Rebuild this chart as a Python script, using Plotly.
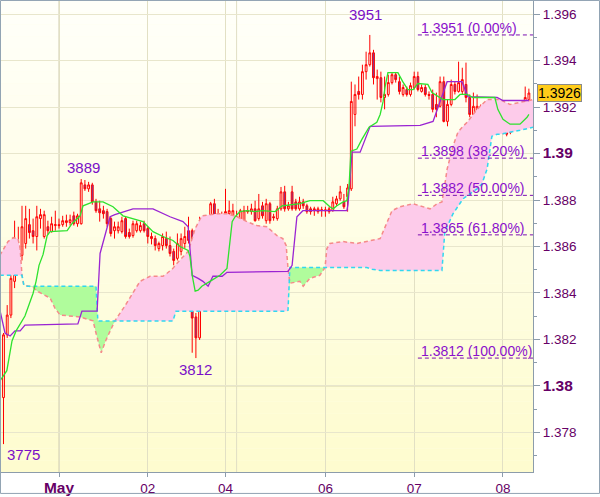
import plotly.graph_objects as go

# ---------------- data ----------------
bar_idx = list(range(1, 144))

open_ = [1.37950,1.38220,1.38305,1.38450,1.38604,1.38562,1.38613,1.38694,1.38668,1.38643,
         1.38720,1.38643,1.38685,1.38664,1.38690,1.38694,1.38694,1.38703,1.38703,1.38732,
         1.38698,1.38698,1.38865,1.38848,1.38865,1.38792,1.38762,1.38754,1.38750,1.38720,
         1.38668,1.38668,1.38664,1.38720,1.38660,1.38647,1.38668,1.38668,1.38698,1.38677,
         1.38643,1.38634,1.38591,1.38604,1.38634,1.38604,1.38579,1.38549,1.38579,1.38613,
         1.38668,1.38668,1.38297,1.38207,1.38643,1.38643,1.38643,1.38784,1.38741,1.38720,
         1.38728,1.38741,1.38728,1.38728,1.38656,1.38707,1.38754,1.38750,1.38762,1.38720,
         1.38775,1.38711,1.38784,1.38728,1.38720,1.38762,1.38835,1.38762,1.38835,1.38792,
         1.38762,1.38792,1.38775,1.38762,1.38762,1.38750,1.38754,1.38758,1.38750,1.38754,
         1.38784,1.38805,1.38792,1.38814,1.38848,1.39168,1.39267,1.39254,1.39352,1.39382,
         1.39433,1.39322,1.39326,1.39241,1.39254,1.39305,1.39339,1.39309,1.39254,1.39275,
         1.39254,1.39284,1.39331,1.39267,1.39284,1.39254,1.39254,1.39211,1.39203,1.39309,
         1.39138,1.39211,1.39297,1.39267,1.39267,1.39297,1.39241,1.39168,1.39156,1.39190,
         1.39160,1.39147,1.39104,1.39104,1.39100,1.39117,1.39104,1.39091,1.39156,1.39156,
         1.39147,1.39156,1.39232]
high_ = [1.38228,1.38348,1.38493,1.38711,1.38685,1.38775,1.38775,1.38762,1.38720,1.38775,
         1.38762,1.38754,1.38711,1.38728,1.38754,1.38720,1.38732,1.38737,1.38737,1.38750,
         1.38741,1.38890,1.38886,1.38878,1.38874,1.38805,1.38797,1.38775,1.38762,1.38728,
         1.38707,1.38707,1.38728,1.38728,1.38677,1.38711,1.38711,1.38707,1.38711,1.38685,
         1.38660,1.38647,1.38621,1.38656,1.38664,1.38643,1.38591,1.38656,1.38656,1.38685,
         1.38728,1.38677,1.38314,1.38728,1.38698,1.38677,1.38792,1.38805,1.38762,1.38750,
         1.38848,1.38797,1.38784,1.38754,1.38762,1.38775,1.38775,1.38784,1.38797,1.38826,
         1.38792,1.38805,1.38792,1.38741,1.38775,1.38856,1.38861,1.38792,1.38861,1.38805,
         1.38814,1.38805,1.38784,1.38771,1.38771,1.38771,1.38771,1.38771,1.38771,1.38814,
         1.38818,1.38861,1.38826,1.38869,1.39309,1.39297,1.39331,1.39382,1.39438,1.39510,
         1.39446,1.39361,1.39352,1.39331,1.39339,1.39348,1.39348,1.39331,1.39297,1.39288,
         1.39305,1.39352,1.39352,1.39297,1.39297,1.39267,1.39275,1.39262,1.39331,1.39331,
         1.39232,1.39318,1.39309,1.39395,1.39369,1.39391,1.39254,1.39262,1.39254,1.39211,
         1.39177,1.39156,1.39134,1.39126,1.39126,1.39126,1.39117,1.39203,1.39177,1.39177,
         1.39198,1.39288,1.39279]
low_ = [1.37750,1.38207,1.38292,1.38421,1.38515,1.38540,1.38591,1.38634,1.38613,1.38583,
        1.38677,1.38634,1.38651,1.38660,1.38668,1.38677,1.38685,1.38685,1.38690,1.38690,
        1.38685,1.38694,1.38839,1.38835,1.38780,1.38745,1.38707,1.38720,1.38685,1.38643,
        1.38634,1.38656,1.38656,1.38634,1.38634,1.38638,1.38660,1.38660,1.38660,1.38613,
        1.38609,1.38583,1.38579,1.38583,1.38591,1.38557,1.38519,1.38540,1.38562,1.38591,
        1.38613,1.38143,1.38120,1.38198,1.38634,1.38634,1.38613,1.38677,1.38711,1.38685,
        1.38720,1.38732,1.38720,1.38647,1.38647,1.38698,1.38741,1.38737,1.38707,1.38711,
        1.38720,1.38698,1.38698,1.38711,1.38711,1.38754,1.38750,1.38754,1.38754,1.38754,
        1.38754,1.38762,1.38741,1.38737,1.38732,1.38741,1.38728,1.38728,1.38741,1.38750,
        1.38775,1.38797,1.38762,1.38750,1.38839,1.39117,1.39232,1.39232,1.39318,1.39374,
        1.39297,1.39232,1.39220,1.39190,1.39245,1.39297,1.39305,1.39254,1.39245,1.39245,
        1.39245,1.39275,1.39267,1.39262,1.39245,1.39232,1.39177,1.39156,1.39198,1.39134,
        1.39117,1.39203,1.39254,1.39262,1.39254,1.39220,1.39156,1.39160,1.39147,1.39147,
        1.39113,1.39100,1.39096,1.39096,1.39096,1.39083,1.39074,1.39083,1.39138,1.39147,
        1.39138,1.39104,1.39211]
close_ = [1.38220,1.38305,1.38463,1.38600,1.38540,1.38685,1.38720,1.38660,1.38643,1.38728,
          1.38737,1.38737,1.38668,1.38698,1.38694,1.38690,1.38711,1.38711,1.38715,1.38698,
          1.38732,1.38874,1.38848,1.38865,1.38792,1.38754,1.38745,1.38741,1.38698,1.38656,
          1.38685,1.38685,1.38711,1.38643,1.38643,1.38698,1.38698,1.38690,1.38668,1.38643,
          1.38634,1.38604,1.38613,1.38643,1.38604,1.38570,1.38540,1.38613,1.38634,1.38643,
          1.38626,1.38292,1.38207,1.38643,1.38651,1.38651,1.38784,1.38711,1.38728,1.38698,
          1.38750,1.38754,1.38754,1.38656,1.38754,1.38754,1.38750,1.38762,1.38711,1.38762,
          1.38732,1.38784,1.38711,1.38724,1.38762,1.38835,1.38762,1.38775,1.38762,1.38762,
          1.38792,1.38775,1.38750,1.38750,1.38754,1.38762,1.38758,1.38754,1.38762,1.38792,
          1.38805,1.38835,1.38771,1.38852,1.39224,1.39254,1.39254,1.39352,1.39382,1.39433,
          1.39326,1.39331,1.39241,1.39254,1.39305,1.39339,1.39318,1.39267,1.39284,1.39254,
          1.39292,1.39331,1.39275,1.39284,1.39254,1.39250,1.39190,1.39190,1.39309,1.39138,
          1.39211,1.39297,1.39267,1.39305,1.39318,1.39241,1.39168,1.39203,1.39203,1.39156,
          1.39117,1.39104,1.39117,1.39117,1.39117,1.39096,1.39083,1.39177,1.39168,1.39168,
          1.39168,1.39241,1.39260]

tenkan_x = [0.1,1.9,3.3,4.4,6.8,9.0,9.8,10.6,11.7,12.8,13.6,18.2,19.5,21.7,22.5,25.2,27.9,30.6,33.3,36.0,
            38.7,41.4,44.1,46.8,48.7,50.9,51.4,52.0,52.8,53.6,54.6,56.8,59.5,61.4,61.9,62.8,63.6,64.9,66.8,69.0,
            70.9,73.0,74.4,76.3,81.1,83.8,87.4,89.2,90.1,91.1,92.8,93.8,94.4,94.9,96.5,97.9,98.7,99.8,101.9,102.8,
            103.6,104.1,104.9,107.6,108.9,110.3,111.7,113.0,115.7,116.8,119.8,123.0,124.4,126.3,127.9,133.8,134.6,136.0,137.9,140.6,
            142.5,143.0]
tenkan_y = [1.38023,1.38066,1.38194,1.38237,1.38301,1.38399,1.38450,1.38519,1.38566,1.38647,
            1.38664,1.38668,1.38698,1.38732,1.38775,1.38792,1.38792,1.38771,1.38732,1.38720,
            1.38707,1.38664,1.38643,1.38626,1.38600,1.38583,1.38557,1.38476,1.38408,1.38412,
            1.38429,1.38450,1.38476,1.38506,1.38579,1.38707,1.38728,1.38750,1.38754,1.38750,
            1.38754,1.38750,1.38750,1.38775,1.38784,1.38797,1.38797,1.38771,1.38762,1.38775,
            1.38792,1.38797,1.38861,1.39010,1.39019,1.39062,1.39083,1.39113,1.39134,1.39168,
            1.39224,1.39284,1.39348,1.39348,1.39309,1.39275,1.39275,1.39301,1.39297,1.39262,
            1.39232,1.39232,1.39254,1.39254,1.39241,1.39241,1.39190,1.39147,1.39126,1.39126,
            1.39156,1.39168]

kijun_x = [0.1,1.4,2.8,4.1,5.5,6.8,21.1,22.2,26.3,27.1,29.8,31.1,36.0,41.4,46.0,49.5,50.9,51.4,52.0,53.6,
           54.9,56.3,57.6,60.1,61.4,77.9,79.0,80.3,81.9,93.8,94.1,94.6,95.2,97.4,100.1,113.6,117.1,120.9,124.9,126.5,
           134.4,136.0,143.0]
kijun_y = [1.38322,1.38228,1.38215,1.38237,1.38237,1.38262,1.38267,1.38322,1.38322,1.38570,
           1.38728,1.38737,1.38762,1.38762,1.38728,1.38707,1.38685,1.38604,1.38476,1.38463,
           1.38450,1.38429,1.38472,1.38472,1.38489,1.38493,1.38519,1.38728,1.38754,1.38754,
           1.38780,1.38878,1.39006,1.39006,1.39117,1.39121,1.39138,1.39309,1.39309,1.39245,
           1.39241,1.39228,1.39228]

cloud_x = [0.0,2.2,3.6,4.9,5.5,6.0,6.5,7.6,9.0,10.1,13.6,14.9,16.3,21.7,25.2,26.0,26.5,27.4,28.7,29.8,
           31.1,33.8,37.9,40.6,44.1,45.2,46.8,47.6,49.2,50.9,51.4,52.8,54.6,58.7,61.4,64.1,66.8,69.5,72.2,74.9,
           76.5,77.4,77.9,78.4,81.1,82.0,83.8,86.5,87.9,88.4,89.2,92.8,96.5,99.2,100.6,102.8,106.0,108.2,111.7,114.4,
           116.3,118.2,119.5,120.3,120.9,122.5,123.8,125.2,126.3,129.0,130.3,131.7,133.0,134.4,135.2,137.9,140.6,144.2]
span_a = [1.38562,1.38621,1.38638,1.38634,1.38591,1.38476,1.38433,1.38429,1.38425,1.38408,
          1.38378,1.38335,1.38305,1.38297,1.38280,1.38228,1.38194,1.38143,1.38198,1.38237,
          1.38280,1.38344,1.38450,1.38472,1.38472,1.38485,1.38506,1.38523,1.38549,1.38579,
          1.38604,1.38677,1.38732,1.38741,1.38741,1.38728,1.38707,1.38690,1.38685,1.38647,
          1.38634,1.38604,1.38506,1.38442,1.38450,1.38429,1.38463,1.38476,1.38510,1.38591,
          1.38613,1.38621,1.38613,1.38621,1.38626,1.38634,1.38754,1.38771,1.38784,1.38771,
          1.38762,1.38784,1.38792,1.38869,1.38933,1.39032,1.39091,1.39117,1.39134,1.39190,
          1.39211,1.39232,1.39232,1.39232,1.39232,1.39211,1.39220,1.39232]
span_b = [1.38476,1.38476,1.38476,1.38476,1.38476,1.38476,1.38433,1.38429,1.38429,1.38429,
          1.38429,1.38429,1.38429,1.38429,1.38429,1.38429,1.38280,1.38280,1.38280,1.38280,
          1.38280,1.38280,1.38280,1.38280,1.38280,1.38280,1.38280,1.38322,1.38322,1.38322,
          1.38322,1.38322,1.38322,1.38322,1.38322,1.38322,1.38322,1.38322,1.38322,1.38322,
          1.38322,1.38322,1.38326,1.38510,1.38510,1.38510,1.38510,1.38510,1.38510,1.38510,
          1.38510,1.38510,1.38510,1.38510,1.38502,1.38497,1.38497,1.38497,1.38497,1.38497,
          1.38497,1.38497,1.38497,1.38668,1.38685,1.38741,1.38771,1.38805,1.38818,1.38848,
          1.38869,1.38933,1.39074,1.39083,1.39083,1.39091,1.39100,1.39113]

fib_levels = [1.3951, 1.3898, 1.3882, 1.3865, 1.3812]
fib_labels = ["1.3951 (0.00%)", "1.3898 (38.20%)", "1.3882 (50.00%)",
              "1.3865 (61.80%)", "1.3812 (100.00%)"]
fib_start_bar = 113

extreme_text = ["3775", "3889", "3812", "3951"]
extreme_bar = [1, 22, 53, 100]
extreme_price = [1.3775, 1.3889, 1.3812, 1.3951]
extreme_kind = ["low", "high", "low", "high"]

ytick_vals = [1.378, 1.380, 1.382, 1.384, 1.386, 1.388, 1.390, 1.392, 1.394, 1.396]
ytick_text = ["1.378", "<b><span style='font-size:15.5px'>1.38</span></b>", "1.382", "1.384",
              "1.386", "1.388", "<b><span style='font-size:15.5px'>1.39</span></b>", "1.392",
              "1.394", "1.396"]
yminor_vals = [1.377, 1.379, 1.381, 1.383, 1.385, 1.387, 1.389, 1.391, 1.393, 1.395]
xtick_vals = [16, 40, 61, 88, 112, 136]
xtick_text = ["<b><span style='font-size:15.5px'>May</span></b>", "02", "04", "06", "07", "08"]
monday_bar = 64
last_price = 1.3926

X_RANGE = [0.324, 144.11]
Y_RANGE = [1.37630, 1.39656]

# ---------------- figure ----------------
fig = go.Figure()

upper = [max(a, b) for a, b in zip(span_a, span_b)]
lower = [min(a, b) for a, b in zip(span_a, span_b)]

fig.add_trace(go.Scatter(x=cloud_x, y=span_b, mode="lines", line=dict(width=0),
                         hoverinfo="skip", showlegend=False))
fig.add_trace(go.Scatter(x=cloud_x, y=upper, mode="lines", line=dict(width=0),
                         fill="tonexty", fillcolor="#fdcbea", hoverinfo="skip", showlegend=False))
fig.add_trace(go.Scatter(x=cloud_x, y=span_b, mode="lines", line=dict(width=0),
                         hoverinfo="skip", showlegend=False))
fig.add_trace(go.Scatter(x=cloud_x, y=lower, mode="lines", line=dict(width=0),
                         fill="tonexty", fillcolor="#b0fc9c", hoverinfo="skip", showlegend=False))
fig.add_trace(go.Scatter(x=cloud_x, y=span_a, mode="lines",
                         line=dict(color="#f58a8a", width=1.5, dash="4px,3px"),
                         hoverinfo="skip", showlegend=False))
fig.add_trace(go.Scatter(x=cloud_x, y=span_b, mode="lines",
                         line=dict(color="#30d8f0", width=1.5, dash="4px,3px"),
                         hoverinfo="skip", showlegend=False))

fig.add_trace(go.Candlestick(
    x=bar_idx, open=open_, high=high_, low=low_, close=close_,
    increasing=dict(line=dict(color="#ff0000", width=1), fillcolor="rgba(255,255,255,0)"),
    decreasing=dict(line=dict(color="#ff0000", width=1), fillcolor="#7442a6"),
    whiskerwidth=0, hoverinfo="skip", showlegend=False))

fig.add_trace(go.Scatter(x=kijun_x, y=kijun_y, mode="lines",
                         line=dict(color="#9a24d2", width=1.3),
                         hoverinfo="skip", showlegend=False))
fig.add_trace(go.Scatter(x=tenkan_x, y=tenkan_y, mode="lines",
                         line=dict(color="#2ee22e", width=1.3),
                         hoverinfo="skip", showlegend=False))

shapes = []
# background gradient
nb = 40
for k in range(nb):
    t = (k + 0.5) / nb
    r = 255 - int(round(1 * t))
    g = 255 - int(round(3 * t))
    b = 250 - int(round(44 * t))
    shapes.append(dict(type="rect", xref="x domain", yref="y domain",
                       x0=0, x1=1, y0=1 - (k + 1) / nb, y1=1 - k / nb,
                       line=dict(width=0), fillcolor=f"rgb({r},{g},{b})", layer="below"))
# darker grid lines for round levels / month start, extra week line
for yv in [1.38, 1.39]:
    shapes.append(dict(type="line", xref="x domain", yref="y", x0=0, x1=1, y0=yv, y1=yv,
                       line=dict(color="#d6d3ac", width=1), layer="below"))
shapes.append(dict(type="line", xref="x", yref="y domain", x0=xtick_vals[0], x1=xtick_vals[0],
                   y0=0, y1=1, line=dict(color="#d0cdb0", width=1), layer="below"))
shapes.append(dict(type="line", xref="x", yref="y domain", x0=monday_bar, x1=monday_bar,
                   y0=0, y1=1, line=dict(color="#e0dec4", width=1), layer="below"))
# fibonacci lines
for lv in fib_levels:
    shapes.append(dict(type="line", xref="x", yref="y", x0=fib_start_bar, x1=X_RANGE[1],
                       y0=lv, y1=lv, line=dict(color="#7a10b0", width=1, dash="4px,3px"),
                       layer="above"))
# outer frame
shapes.append(dict(type="rect", xref="paper", yref="paper", x0=-0.00094, x1=1.125,
                   y0=-0.0455, y1=1.0011, line=dict(color="#91a3b3", width=1),
                   fillcolor="rgba(0,0,0,0)", layer="above"))

annotations = []
for lv, txt in zip(fib_levels, fib_labels):
    annotations.append(dict(x=fib_start_bar, y=lv, xref="x", yref="y", text=txt,
                            showarrow=False, xanchor="left", yanchor="bottom",
                            xshift=1, yshift=-3,
                            font=dict(family="Liberation Sans, Arial", size=14, color="#8a10cc")))
ex_shift = {"3775": (1, 0), "3889": (2, 1), "3812": (0, -1), "3951": (-4, 10)}
for txt, bx, pr, kind in zip(extreme_text, extreme_bar, extreme_price, extreme_kind):
    dx, dy = ex_shift[txt]
    annotations.append(dict(x=bx, y=pr, xref="x", yref="y", text=txt, showarrow=False,
                            xanchor="left" if txt == "3775" else "center",
                            yanchor="top" if kind == "low" else "bottom",
                            xshift=dx, yshift=dy,
                            font=dict(family="Liberation Sans, Arial", size=15, color="#7a10c8")))
annotations.append(dict(x=1.0075, y=last_price, xref="paper", yref="y", text="1.3926",
                        showarrow=False, xanchor="left", yanchor="middle",
                        bgcolor="#ffcc1a", bordercolor="#8a8a8a", borderwidth=1, borderpad=0,
                        font=dict(family="Liberation Sans, Arial", size=14, color="#000000")))

axis_col = "#8c9cab"
fig.update_layout(
    width=600, height=497,
    margin=dict(l=1, r=67, t=1, b=23, pad=0),
    paper_bgcolor="#ffffff", plot_bgcolor="#fffeea",
    showlegend=False, shapes=shapes, annotations=annotations,
    font=dict(family="Liberation Sans, Arial", color="#660066"),
    xaxis=dict(range=X_RANGE, tickmode="array", tickvals=xtick_vals, ticktext=xtick_text,
               ticks="outside", ticklen=4, tickcolor=axis_col, showline=True, linecolor=axis_col,
               showgrid=True, gridcolor="#e2e0c4", zeroline=False,
               tickfont=dict(size=13.5, color="#660066"), rangeslider=dict(visible=False)),
    yaxis=dict(range=Y_RANGE, side="right", tickmode="array", tickvals=ytick_vals,
               ticktext=ytick_text, ticks="outside", ticklen=6, tickcolor=axis_col,
               showline=True, linecolor=axis_col, showgrid=True, gridcolor="#e8e6cc",
               zeroline=False, tickfont=dict(size=13.5, color="#660066"),
               minor=dict(tickvals=yminor_vals, ticks="outside", ticklen=3,
                          tickcolor=axis_col, showgrid=False)),
)

fig.write_html("out.html",
               config={"displayModeBar": False, "staticPlot": True},
               post_script="document.body.style.margin='0';document.body.style.padding='0';"
                           "document.documentElement.style.overflow='hidden';")
